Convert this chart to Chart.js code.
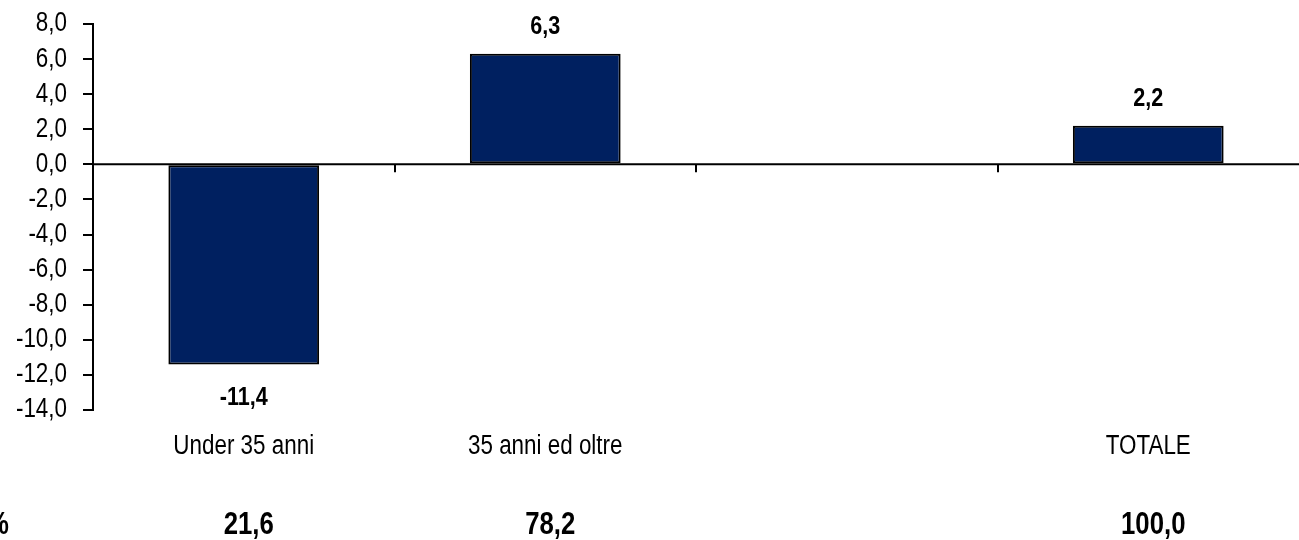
<!DOCTYPE html>
<html>
<head>
<meta charset="utf-8">
<script src="https://cdn.jsdelivr.net/npm/chart.js@4.4.1/dist/chart.umd.min.js"></script>
<style>
  html, body { margin: 0; padding: 0; background: #fff; }
  #wrap { width: 1299px; height: 540px; position: relative; }
</style>
</head>
<body>
<div id="wrap"><canvas id="c" width="1299" height="540"></canvas></div>
<script>
const categories = ['Under 35 anni', '35 anni ed oltre', '', 'TOTALE'];
const variation = [-11.4, 6.3, null, 2.2];
const shares = [21.6, 78.2, null, 100.0];
const shareRowLabel = '%';
const yMin = -14, yMax = 8, yStep = 2;

const FONT = "'Liberation Sans', Arial, sans-serif";
const NARROW = 0.83; // emulate a narrow sans face
const fmt = v => v.toFixed(1).replace('.', ',');

function narrowText(ctx, text, x, y, align, font) {
  ctx.save();
  ctx.font = font;
  ctx.textAlign = align;
  ctx.textBaseline = 'middle';
  ctx.fillStyle = '#000';
  ctx.translate(x, y);
  ctx.scale(NARROW, 1);
  ctx.fillText(text, 0, 0);
  ctx.restore();
}

const overlay = {
  id: 'overlay',
  afterDraw(chart) {
    const ctx = chart.ctx;
    const x = chart.scales.x, y = chart.scales.y;
    const area = chart.chartArea;
    const y0 = y.getPixelForValue(0);
    ctx.save();
    // zero line
    ctx.strokeStyle = '#000';
    ctx.lineWidth = 2;
    ctx.beginPath();
    ctx.moveTo(area.left, y0);
    ctx.lineTo(area.right, y0);
    ctx.stroke();
    // category separator ticks
    const n = categories.length;
    const w = (area.right - area.left) / n;
    for (let i = 1; i < n; i++) {
      const bx = Math.round(area.left + w * i);
      ctx.beginPath();
      ctx.moveTo(bx, y0);
      ctx.lineTo(bx, y0 + 8);
      ctx.stroke();
    }
    ctx.restore();
    // y tick labels
    y.ticks.forEach(t => {
      narrowText(ctx, fmt(t.value), y.right - 26, y.getPixelForValue(t.value), 'right', '27px ' + FONT);
    });
    // category labels
    categories.forEach((c, i) => {
      if (!c) return;
      narrowText(ctx, c, x.getPixelForValue(i), area.bottom + 37, 'center', '27px ' + FONT);
    });
    // value labels
    const meta = chart.getDatasetMeta(0);
    meta.data.forEach((bar, i) => {
      const v = variation[i];
      if (v === null || v === undefined) return;
      const py = v >= 0 ? bar.y - 27 : bar.y + 33;
      narrowText(ctx, fmt(v), bar.x, py, 'center', 'bold 26px ' + FONT);
    });
    // bottom share row
    shares.forEach((s, i) => {
      if (s === null || s === undefined) return;
      narrowText(ctx, fmt(s), x.getPixelForValue(i) + 5, 525, 'center', 'bold 31px ' + FONT);
    });
    narrowText(ctx, shareRowLabel, 9, 525, 'right', 'bold 31px ' + FONT);
  }
};

new Chart(document.getElementById('c'), {
  type: 'bar',
  data: {
    labels: categories,
    datasets: [{
      data: variation,
      backgroundColor: '#002060',
      borderColor: '#000',
      borderWidth: 2,
      borderSkipped: false,
      categoryPercentage: 1,
      barPercentage: 0.5
    }]
  },
  options: {
    responsive: false,
    animation: false,
    events: [],
    layout: { padding: { top: 24, right: 0, bottom: 0, left: 0 } },
    plugins: { legend: { display: false }, tooltip: { enabled: false } },
    scales: {
      x: {
        grid: { display: false },
        border: { display: false },
        ticks: { display: false },
        afterFit(s) { s.height = 130; }
      },
      y: {
        min: yMin, max: yMax,
        grid: { drawOnChartArea: false, drawTicks: true, tickLength: 10, color: '#000', lineWidth: 2 },
        border: { display: true, color: '#000', width: 2 },
        ticks: { stepSize: yStep, display: false },
        afterFit(s) { s.width = 93; }
      }
    }
  },
  plugins: [overlay]
});
</script>
</body>
</html>
